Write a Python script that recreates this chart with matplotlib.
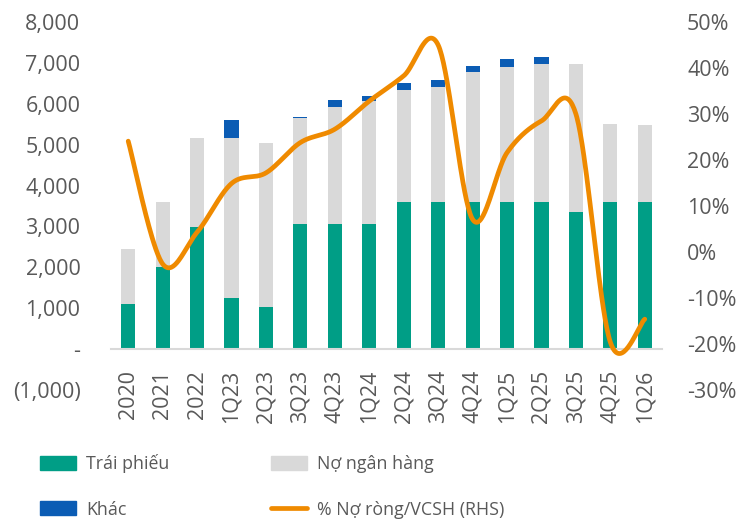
import numpy as np
import matplotlib
matplotlib.use("Agg")
import matplotlib.pyplot as plt
from matplotlib.patches import Patch
from matplotlib.lines import Line2D

plt.rcParams['font.family'] = ['Open Sans', 'DejaVu Sans']

categories = ["2020", "2021", "2022", "1Q23", "2Q23", "3Q23", "4Q23", "1Q24",
              "2Q24", "3Q24", "4Q24", "1Q25", "2Q25", "3Q25", "4Q25", "1Q26"]
trai_phieu = [1110, 2005, 2995, 1240, 1040, 3050, 3050, 3055,
              3610, 3590, 3590, 3590, 3600, 3350, 3610, 3610]
no_ngan_hang = [1330, 1585, 2175, 3930, 3990, 2600, 2860, 3025,
                2730, 2810, 3175, 3315, 3370, 3625, 1885, 1860]
khac = [0, 0, 0, 423, 0, 15, 171, 106, 171, 171, 171, 179, 162, 0, 0, 0]
no_rong_vcsh = [24.1, -2.6, 4.3, 14.9, 17.2, 23.8, 26.7, 32.8,
                38.3, 45.0, 7.1, 21.6, 28.5, 30.0, -19.6, -14.6]

left_ticks = [-1000, 0, 1000, 2000, 3000, 4000, 5000, 6000, 7000, 8000]
right_ticks = [-30, -20, -10, 0, 10, 20, 30, 40, 50]

GREEN = "#009E86"
GRAY = "#D9D9D9"
BLUE = "#0B5CB4"
ORANGE = "#EF8A00"
TXT = "#595959"

fig = plt.figure(figsize=(7.43, 5.22), dpi=100)
ax = fig.add_axes([111/743, 1-390/522, (662-111)/743, (390-22)/522])
x = np.arange(len(categories))
w = 0.41
tp = np.array(trai_phieu); nh = np.array(no_ngan_hang); kh = np.array(khac)
ax.bar(x, tp, w, color=GREEN, zorder=2)
ax.bar(x, nh, w, bottom=tp, color=GRAY, zorder=2)
ax.bar(x, kh, w, bottom=tp+nh, color=BLUE, zorder=2)

ax.set_xlim(-0.5, len(categories)-0.5)
ax.set_ylim(-1000, 8000)
ax.set_yticks(left_ticks)
def lfmt(v):
    if v == 0:
        return "-"
    if v < 0:
        return "({:,})".format(int(-v))
    return "{:,}".format(int(v))
ax.set_yticklabels([lfmt(v) for v in left_ticks])
ax.set_xticks(x)
ax.set_xticklabels(categories)
for s in ['top', 'right', 'left']:
    ax.spines[s].set_visible(False)
ax.spines['bottom'].set_position(('data', 0))
ax.spines['bottom'].set_color(GRAY)
ax.spines['bottom'].set_linewidth(1.5)
ax.tick_params(axis='both', length=0, labelsize=15.5, colors=TXT)
ax.tick_params(axis='y', pad=22)
ax.tick_params(axis='x', pad=15, labelrotation=90)

ax2 = ax.twinx()
ax2.set_ylim(-30, 50)
ax2.set_yticks(right_ticks)
ax2.set_yticklabels(["{}%".format(v) for v in right_ticks])
for s in ax2.spines.values():
    s.set_visible(False)
ax2.tick_params(axis='y', length=0, labelsize=15.5, colors=TXT, pad=18)

# Smoothed line (Excel-style Bezier) through the data points
yv = np.array(no_rong_vcsh, dtype=float)
xv = x.astype(float)
px = np.concatenate([[xv[0]], xv, [xv[-1]]])
py = np.concatenate([[yv[0]], yv, [yv[-1]]])
cx, cy = [], []
t = np.linspace(0, 1, 40)
for i in range(1, len(px)-2):
    p0 = np.array([px[i-1], py[i-1]]); p1 = np.array([px[i], py[i]])
    p2 = np.array([px[i+1], py[i+1]]); p3 = np.array([px[i+2], py[i+2]])
    c1 = p1 + (p2 - p0) / 6.0
    c2 = p2 - (p3 - p1) / 6.0
    for tt in t:
        b = ((1-tt)**3)*p1 + 3*((1-tt)**2)*tt*c1 + 3*(1-tt)*tt**2*c2 + tt**3*p2
        cx.append(b[0]); cy.append(b[1])
ax2.plot(cx, cy, color=ORANGE, lw=3.4, solid_capstyle='round', zorder=3)

handles = [Patch(color=GREEN), Patch(color=BLUE), Patch(color=GRAY),
           Line2D([0], [0], color=ORANGE, lw=3.4, solid_capstyle='round')]
labels = ["Trái phiếu", "Khác", "Nợ ngân hàng", "% Nợ ròng/VCSH (RHS)"]
leg = fig.legend(handles, labels, ncol=2, loc='upper left',
                 bbox_to_anchor=(24/743, 1-438/522), frameon=False,
                 prop={'size': 12.8},
                 handlelength=2.05, handleheight=0.85, handletextpad=0.55,
                 columnspacing=5.7, labelspacing=1.55)
for txt in leg.get_texts():
    txt.set_color(TXT)

fig.savefig("out.png", dpi=100)
